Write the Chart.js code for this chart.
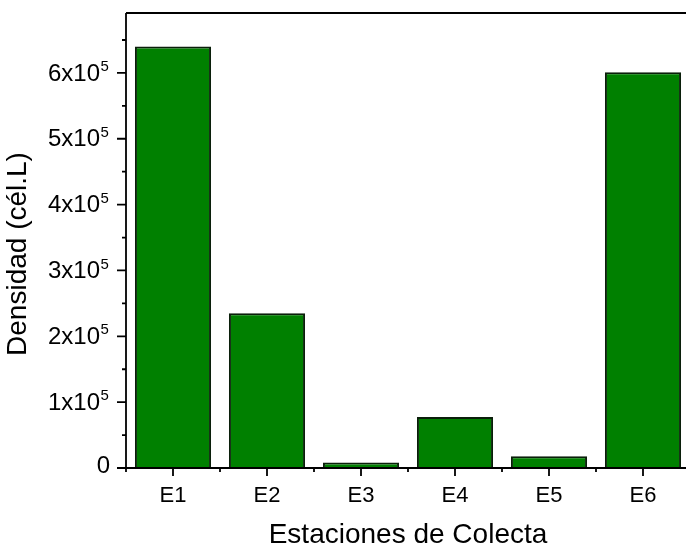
<!DOCTYPE html>
<html>
<head>
<meta charset="utf-8">
<script src="https://cdn.jsdelivr.net/npm/chart.js@4.4.1/dist/chart.umd.min.js"></script>
<style>
  html, body { margin: 0; padding: 0; background: #fff; overflow: hidden; width: 686px; height: 546px; }
  #c { display: block; }
</style>
</head>
<body>
<canvas id="c" width="690" height="546" style="width:690px;height:546px"></canvas>
<script>
const categories = ['E1', 'E2', 'E3', 'E4', 'E5', 'E6'];
const densidad = [640000, 235000, 8500, 77500, 18000, 601000];
const yMajorTicks = [0, 100000, 200000, 300000, 400000, 500000, 600000];
const yMinorTicks = [50000, 150000, 250000, 350000, 450000, 550000, 650000];
const yTickMantissa = ['0', '1x10', '2x10', '3x10', '4x10', '5x10', '6x10'];
const yTickExponent = ['', '5', '5', '5', '5', '5', '5'];
const yMax = 691000;
const yTitle = 'Densidad (cél.L)';
const xTitle = 'Estaciones de Colecta';

const FONT = "'Liberation Sans', Arial, sans-serif";

const framePlugin = {
  id: 'frame',
  afterDraw(chart) {
    const ctx = chart.ctx;
    const area = chart.chartArea;
    const ys = chart.scales.y;
    const xs = chart.scales.x;
    ctx.save();
    ctx.strokeStyle = '#000';
    ctx.lineWidth = 1.8;
    ctx.beginPath();
    ctx.moveTo(area.left, area.top);
    ctx.lineTo(area.left, area.bottom + 4);
    ctx.moveTo(area.left, area.bottom);
    ctx.lineTo(area.right, area.bottom);
    ctx.moveTo(area.left, area.top);
    ctx.lineTo(area.right, area.top);
    yMajorTicks.forEach(v => {
      const p = ys.getPixelForValue(v);
      ctx.moveTo(area.left - 9, p);
      ctx.lineTo(area.left, p);
    });
    yMinorTicks.forEach(v => {
      const p = ys.getPixelForValue(v);
      ctx.moveTo(area.left - 4, p);
      ctx.lineTo(area.left, p);
    });
    categories.forEach((c, i) => {
      const p = xs.getPixelForValue(i);
      ctx.moveTo(p, area.bottom);
      ctx.lineTo(p, area.bottom + 8);
    });
    for (let i = 0; i <= categories.length; i++) {
      const p = xs.getPixelForValue(i - 0.5);
      ctx.moveTo(p, area.bottom);
      ctx.lineTo(p, area.bottom + 4);
    }
    ctx.stroke();

    ctx.fillStyle = '#000';
    ctx.textBaseline = 'middle';
    yMajorTicks.forEach((v, i) => {
      const p = ys.getPixelForValue(v);
      if (yTickExponent[i] === '') {
        ctx.font = '24px ' + FONT;
        ctx.textAlign = 'right';
        ctx.fillText(yTickMantissa[i], 110, p - 2);
      } else {
        ctx.font = '24px ' + FONT;
        ctx.textAlign = 'right';
        ctx.fillText(yTickMantissa[i], 100, p + 1);
        ctx.font = '15px ' + FONT;
        ctx.textAlign = 'left';
        ctx.fillText(yTickExponent[i], 100.5, p - 6);
      }
    });

    ctx.save();
    ctx.translate(18, 254);
    ctx.rotate(-Math.PI / 2);
    ctx.font = '28px ' + FONT;
    ctx.textAlign = 'center';
    ctx.textBaseline = 'middle';
    ctx.fillText(yTitle, 0, 0);
    ctx.restore();
    ctx.restore();
  }
};

new Chart(document.getElementById('c'), {
  type: 'bar',
  data: {
    labels: categories,
    datasets: [{
      data: densidad,
      backgroundColor: '#008000',
      borderColor: '#0a1f0a',
      borderWidth: 2,
      barPercentage: 0.81,
      categoryPercentage: 1.0
    }]
  },
  options: {
    responsive: false,
    devicePixelRatio: 1,
    animation: false,
    layout: { padding: { top: 13, left: 0, right: 0, bottom: 0 } },
    plugins: { legend: { display: false }, tooltip: { enabled: false } },
    scales: {
      x: {
        grid: { display: false },
        border: { display: false },
        ticks: {
          color: '#000',
          font: { family: FONT, size: 22 },
          padding: 7
        },
        title: {
          display: true,
          text: xTitle,
          color: '#000',
          font: { family: FONT, size: 28, lineHeight: 1.0 },
          padding: { top: 0, bottom: -3 }
        },
        afterFit(scale) { scale.height = 78; }
      },
      y: {
        min: 0,
        max: yMax,
        grid: { display: false },
        border: { display: false },
        ticks: { display: false },
        title: { display: false },
        afterFit(scale) { scale.width = 126; }
      }
    }
  },
  plugins: [framePlugin]
});
</script>
</body>
</html>
